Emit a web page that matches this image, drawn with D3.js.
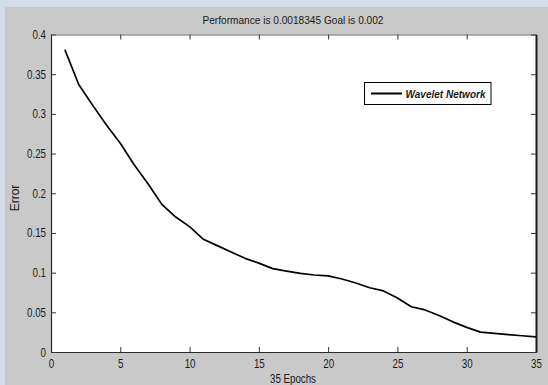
<!DOCTYPE html>
<html>
<head>
<meta charset="utf-8">
<script src="https://cdn.jsdelivr.net/npm/d3@7"></script>
<style>
  html, body { margin: 0; padding: 0; background: #c9c9c9; }
  svg { display: block; }
  text { font-family: "Liberation Sans", Arial, sans-serif; fill: #1a1a1a; }
</style>
</head>
<body>
<svg id="chart" width="548" height="385"></svg>
<script>
// ---- data ----
const epochs = [1,2,3,4,5,6,7,8,9,10,11,12,13,14,15,16,17,18,19,20,21,22,23,24,25,26,27,28,29,30,31,32,33,34,35];
const errors = [0.381,0.337,0.311,0.286,0.263,0.236,0.212,0.186,0.170,0.158,
                0.142,0.134,0.126,0.118,0.112,0.105,0.102,0.099,0.097,0.096,
                0.092,0.087,0.081,0.077,0.068,0.057,0.053,0.046,0.038,0.031,
                0.025,0.0235,0.022,0.0205,0.019];
const xTicks = [0,5,10,15,20,25,30,35];
const yTicks = [0,0.05,0.1,0.15,0.2,0.25,0.3,0.35,0.4];
const titleText = "Performance is 0.0018345 Goal is 0.002";
const xLabel = "35 Epochs";
const yLabel = "Error";
const seriesName = "Wavelet Network";

// ---- layout ----
const svg = d3.select("#chart");
const W = 548, H = 385;
const plot = {left: 51, right: 536, top: 34.5, bottom: 352};

// figure background with bluish frame strips
svg.append("rect").attr("x",0).attr("y",0).attr("width",W).attr("height",H).attr("fill","#d4dce8");
svg.append("rect").attr("x",5).attr("y",7).attr("width",W-5).attr("height",H-7).attr("fill","#c9c9c9");

const x = d3.scaleLinear().domain([0,35]).range([plot.left, plot.right]);
const y = d3.scaleLinear().domain([0,0.4]).range([plot.bottom, plot.top]);

svg.append("rect")
  .attr("x", plot.left).attr("y", plot.top)
  .attr("width", plot.right-plot.left).attr("height", plot.bottom-plot.top)
  .attr("fill", "#ffffff");

const fmt = d => d === 0 ? "0" : String(+d.toFixed(2));
const SX = 0.78;

// bottom axis
const gB = svg.append("g").attr("transform", `translate(0,${plot.bottom})`)
  .call(d3.axisBottom(x).tickValues(xTicks).tickFormat(fmt).tickSizeInner(-5).tickSizeOuter(0).tickPadding(7));
gB.selectAll("text").attr("font-size", 12.5).attr("transform", `scale(${SX},1)`).attr("dy","0.71em");
// left axis
const gL = svg.append("g").attr("transform", `translate(${plot.left},0)`)
  .call(d3.axisLeft(y).tickValues(yTicks).tickFormat(fmt).tickSizeInner(-5).tickSizeOuter(0).tickPadding(5));
gL.selectAll("text").attr("font-size", 12.5).attr("x", -5/SX).attr("transform", `scale(${SX},1)`);
// top axis
const gT = svg.append("g").attr("transform", `translate(0,${plot.top})`)
  .call(d3.axisTop(x).tickValues(xTicks).tickFormat("").tickSizeInner(-5).tickSizeOuter(0));
// right axis
const gR = svg.append("g").attr("transform", `translate(${plot.right},0)`)
  .call(d3.axisRight(y).tickValues(yTicks).tickFormat("").tickSizeInner(-5).tickSizeOuter(0));

[gB,gL,gT,gR].forEach(g => {
  g.selectAll("line").attr("stroke","#333").attr("stroke-width",1);
  g.select(".domain").attr("stroke","#2a2a2a").attr("stroke-width",1.2);
});
gT.select(".domain").attr("stroke","#666");
gR.select(".domain").attr("stroke","#1a1a1a").attr("stroke-width",2);

// line
const line = d3.line().x((d,i) => x(epochs[i])).y(d => y(d));
svg.append("path")
  .datum(errors)
  .attr("d", line)
  .attr("fill","none")
  .attr("stroke","#000")
  .attr("stroke-width",1.7)
  .attr("stroke-linejoin","round");

// title
svg.append("text")
  .attr("x", 293).attr("y", 24)
  .attr("text-anchor","middle")
  .attr("font-size", 11.5)
  .attr("textLength", 181).attr("lengthAdjust","spacingAndGlyphs")
  .text(titleText);

// x label
svg.append("text")
  .attr("x", 293).attr("y", 383)
  .attr("text-anchor","middle")
  .attr("font-size", 12)
  .attr("textLength", 46).attr("lengthAdjust","spacingAndGlyphs")
  .text(xLabel);

// y label
svg.append("text")
  .attr("transform","translate(19,198) rotate(-90)")
  .attr("text-anchor","middle")
  .attr("font-size", 12)
  .text(yLabel);

// legend
const lg = svg.append("g");
lg.append("rect").attr("x",364.5).attr("y",82.5).attr("width",126.5).attr("height",22)
  .attr("fill","#fff").attr("stroke","#000").attr("stroke-width",1);
lg.append("line").attr("x1",371).attr("x2",402).attr("y1",93.5).attr("y2",93.5)
  .attr("stroke","#000").attr("stroke-width",2);
lg.append("text").attr("x",405.5).attr("y",97.5)
  .attr("font-size",11.5).attr("font-weight","bold").attr("font-style","italic")
  .attr("textLength",80).attr("lengthAdjust","spacingAndGlyphs")
  .text(seriesName);
</script>
</body>
</html>
